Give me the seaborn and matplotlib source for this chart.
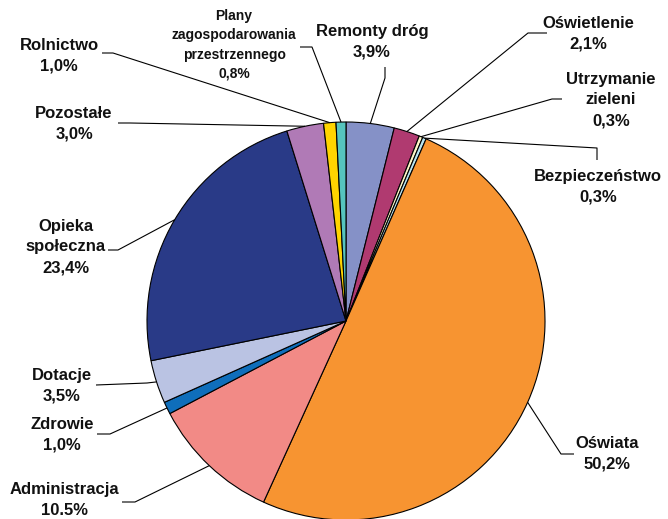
import seaborn as sns
import matplotlib.pyplot as plt
import numpy as np

# dane
labels = ["Remonty dróg", "Oświetlenie", "Utrzymanie\nzieleni", "Bezpieczeństwo",
          "Oświata", "Administracja", "Zdrowie", "Dotacje", "Opieka\nspołeczna",
          "Pozostałe", "Rolnictwo", "Plany\nzagospodarowania\nprzestrzennego"]
values = [3.9, 2.1, 0.3, 0.3, 50.2, 10.5, 1.0, 3.5, 23.4, 3.0, 1.0, 0.8]
pct_text = ["3,9%", "2,1%", "0,3%", "0,3%", "50,2%", "10.5%", "1,0%", "3,5%",
            "23,4%", "3,0%", "1,0%", "0,8%"]
colors = ["#8591C7", "#B03A70", "#FFF8C8", "#B8E4F0", "#F79431", "#F28A86",
          "#0F6EBB", "#BAC3E3", "#293A87", "#B07AB6", "#FFD400", "#55C4BE"]

W, H = 668, 519

# pozycje etykiet (piksele): tekst, koniec linii, załamanie
text_pos = [(372, 42), (588, 34), (611, 100), (598, 187), (607, 454), (64, 500),
            (62, 435), (62, 386), (66, 247), (74, 124), (59, 56), (234, 45)]
stub_pos = [(385, 67), (547, 33), (562, 99), (597, 160), (574, 454), (122, 502),
            (97, 434), (96, 385), (108, 250), (118, 123), (102, 53), (300, 47)]
elbow_pos = [(385, 78), (528, 33), (552, 99), (597, 148), (561, 454), (135, 502),
             (110, 434), (147, 383), (118, 250), (130, 123), (113, 53), (312, 47)]

sns.set_theme(style="white")
plt.rcParams['font.family'] = ['Liberation Sans', 'DejaVu Sans']

fig = plt.figure(figsize=(W / 100, H / 100), dpi=100)
ax = fig.add_axes([0, 0, 1, 1])

cx, cy, r = 346, 321, 199
wedges, _ = ax.pie(values, colors=colors, startangle=90, counterclock=False,
                   center=(cx, H - cy), radius=r,
                   wedgeprops=dict(edgecolor="black", linewidth=0.8))

ax.set_xlim(0, W)
ax.set_ylim(0, H)
ax.set_aspect("equal")
ax.axis("off")

for i, w in enumerate(wedges):
    ang = np.deg2rad((w.theta1 + w.theta2) / 2)
    ax_x = w.center[0] + w.r * np.cos(ang)
    ax_y = w.center[1] + w.r * np.sin(ang)
    ex, ey = elbow_pos[i]
    sx, sy = stub_pos[i]
    ax.plot([ax_x, ex, sx], [ax_y, H - ey, H - sy], color="black", lw=0.8,
            solid_capstyle="butt")
    tx, ty = text_pos[i]
    small = i == len(wedges) - 1
    ax.text(tx, H - ty, labels[i] + "\n" + pct_text[i], ha="center", va="center",
            fontsize=10 if small else 12, fontweight="bold", color="#111111",
            linespacing=1.46 if small else 1.48)

plt.savefig("out.png", dpi=100)
